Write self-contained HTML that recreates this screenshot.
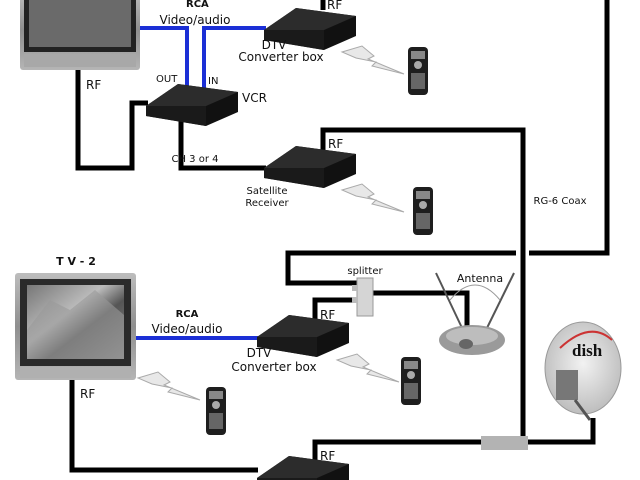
<!DOCTYPE html>
<html><head><meta charset="utf-8"><style>
html,body{margin:0;padding:0;background:#fff;width:640px;height:480px;overflow:hidden}
text{font-family:"DejaVu Sans","Liberation Sans",sans-serif;fill:#111}
</style></head><body>
<svg width="640" height="480" viewBox="0 0 640 480" xmlns="http://www.w3.org/2000/svg">
<defs>
<linearGradient id="silver" x1="0" y1="0" x2="0" y2="1"><stop offset="0" stop-color="#bdbdbd"/><stop offset="0.5" stop-color="#8f8f8f"/><stop offset="1" stop-color="#b5b5b5"/></linearGradient>
<linearGradient id="scr" x1="0" y1="0" x2="1" y2="1"><stop offset="0" stop-color="#777"/><stop offset="0.4" stop-color="#bbb"/><stop offset="0.6" stop-color="#555"/><stop offset="1" stop-color="#888"/></linearGradient>
<radialGradient id="dish" cx="0.5" cy="0.45" r="0.6"><stop offset="0" stop-color="#f2f2f2"/><stop offset="1" stop-color="#b9b9b9"/></radialGradient>
<g id="box">
<polygon points="0,22 32,0 92,8 92,28 60,42 0,32" fill="#111"/>
<polygon points="0,22 32,0 92,8 60,22" fill="#2c2c2c"/>
<polygon points="0,22 60,22 60,42 0,32" fill="#1a1a1a"/>
</g>
<g id="remote">
<rect x="0" y="0" width="20" height="48" rx="4" fill="#1e1e1e"/>
<rect x="3" y="4" width="14" height="8" fill="#888"/>
<circle cx="10" cy="18" r="4" fill="#aaa"/>
<rect x="3" y="26" width="14" height="16" fill="#666"/>
</g>
<g id="bolt"><polygon points="0,6 20,0 32,10 26,13 62,28 30,20 34,16 14,12" fill="#e8e8e8" stroke="#aaa" stroke-width="1"/></g>
</defs>

<g fill="none" stroke="#000" stroke-width="5">
<path d="M323,0 V10"/>
<path d="M78,70 V168 H132 V103 H148"/>
<path d="M181,118 V168 H266"/>
<path d="M323,150 V130 H523 V437"/>
<path d="M607,0 V253 H529"/>
<path d="M516,253 H288 V283 H358"/>
<path d="M372,293 H467 V330"/>
<path d="M358,300 H315 V322"/>
<path d="M72,380 V470 H258"/>
<path d="M315,462 V442 H483"/>
<path d="M528,442 H593 V418"/>
</g>
<rect x="481" y="436" width="47" height="14" fill="#b3b3b3"/>

<g fill="none" stroke="#1b2fd6" stroke-width="4">
<path d="M140,28 H187 V90"/>
<path d="M266,28 H204 V92"/>
<path d="M136,338 H260"/>
</g>

<!-- TV1 -->
<rect x="20" y="-10" width="120" height="80" rx="3" fill="url(#silver)"/>
<rect x="24" y="-10" width="112" height="62" fill="#222"/>
<rect x="29" y="-10" width="102" height="57" fill="#6a6a6a"/>
<rect x="24" y="54" width="112" height="13" fill="#a8a8a8"/>

<!-- TV2 -->
<rect x="15" y="273" width="121" height="107" rx="3" fill="url(#silver)"/>
<rect x="20" y="279" width="111" height="87" fill="#2a2a2a"/>
<rect x="27" y="285" width="97" height="74" fill="url(#scr)"/>
<polygon points="27,330 50,300 70,310 95,290 124,315 124,359 27,359" fill="#9a9a9a" opacity="0.6"/>
<rect x="20" y="367" width="111" height="11" fill="#b0b0b0"/>

<use href="#box" x="264" y="8"/>
<use href="#box" x="146" y="84"/>
<use href="#box" x="264" y="146"/>
<use href="#box" x="257" y="315"/>
<use href="#box" x="257" y="456"/>

<use href="#bolt" x="342" y="46"/>
<use href="#remote" x="408" y="47"/>
<use href="#bolt" x="342" y="184"/>
<use href="#remote" x="413" y="187"/>
<use href="#bolt" x="337" y="354"/>
<use href="#remote" x="401" y="357"/>
<use href="#bolt" x="138" y="372"/>
<use href="#remote" x="206" y="387"/>

<rect x="357" y="278" width="16" height="38" fill="#d5d5d5" stroke="#999"/>
<rect x="352" y="285" width="6" height="6" fill="#bbb"/>
<rect x="352" y="297" width="6" height="6" fill="#bbb"/>

<line x1="436" y1="273" x2="463" y2="330" stroke="#555" stroke-width="2"/>
<line x1="514" y1="273" x2="486" y2="330" stroke="#555" stroke-width="2"/>
<path d="M450,300 Q475,270 500,300" fill="none" stroke="#999" stroke-width="1"/>
<ellipse cx="472" cy="340" rx="33" ry="15" fill="#9a9a9a"/>
<ellipse cx="472" cy="336" rx="26" ry="9" fill="#bdbdbd"/>
<ellipse cx="466" cy="344" rx="7" ry="5" fill="#666"/>

<ellipse cx="583" cy="368" rx="38" ry="46" fill="url(#dish)" stroke="#999"/>
<path d="M560,348 Q590,320 612,340" fill="none" stroke="#c33" stroke-width="2"/>
<text x="572" y="356" font-size="17" style="font-family:'Liberation Serif',serif;font-weight:bold">dish</text>
<rect x="556" y="370" width="22" height="30" fill="#777"/>
<line x1="575" y1="400" x2="590" y2="420" stroke="#555" stroke-width="3"/>

<g font-size="12">
<text x="186" y="7" font-size="10" font-weight="bold">RCA</text>
<text x="195" y="24" text-anchor="middle" font-size="12">Video/audio</text>
<text x="327" y="9" font-size="12">RF</text>
<text x="274" y="49" text-anchor="middle" font-size="12">DTV</text>
<text x="281" y="61" text-anchor="middle" font-size="12">Converter box</text>
<text x="86" y="89" font-size="12">RF</text>
<text x="156" y="82" font-size="10">OUT</text>
<text x="208" y="84" font-size="10">IN</text>
<text x="242" y="102" font-size="12">VCR</text>
<text x="195" y="162" text-anchor="middle" font-size="10">CH 3 or 4</text>
<text x="328" y="148" font-size="12">RF</text>
<text x="267" y="194" text-anchor="middle" font-size="10">Satellite</text>
<text x="267" y="206" text-anchor="middle" font-size="10">Receiver</text>
<text x="560" y="204" text-anchor="middle" font-size="10">RG-6 Coax</text>
<text x="76" y="265" text-anchor="middle" font-size="11" font-weight="bold">T V - 2</text>
<text x="365" y="274" text-anchor="middle" font-size="10">splitter</text>
<text x="480" y="282" text-anchor="middle" font-size="11">Antenna</text>
<text x="320" y="319" font-size="12">RF</text>
<text x="187" y="317" text-anchor="middle" font-size="10" font-weight="bold">RCA</text>
<text x="187" y="333" text-anchor="middle" font-size="12">Video/audio</text>
<text x="259" y="357" text-anchor="middle" font-size="12">DTV</text>
<text x="274" y="371" text-anchor="middle" font-size="12">Converter box</text>
<text x="80" y="398" font-size="12">RF</text>
<text x="320" y="460" font-size="12">RF</text>
</g>
</svg>
</body></html>
